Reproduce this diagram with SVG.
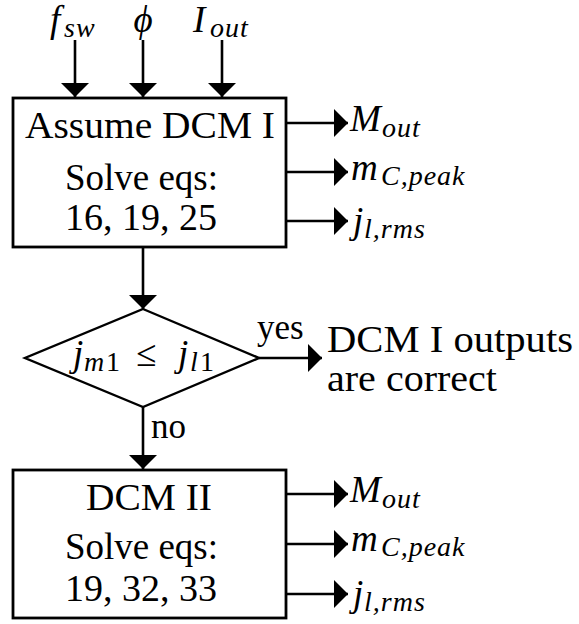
<svg xmlns="http://www.w3.org/2000/svg" width="579" height="624" viewBox="0 0 579 624">
<style>
text{font-family:"Liberation Serif","Times New Roman",Times,serif;font-size:37px;fill:#000}
.m{font-style:italic}
.s{font-size:28px;letter-spacing:1px}
.up{font-style:normal}
.box{fill:#fff;stroke:#000;stroke-width:2.8}
.ln{fill:none;stroke:#000;stroke-width:2.6}
</style>
<defs>
<marker id="ah" markerUnits="userSpaceOnUse" markerWidth="16" markerHeight="30" refX="14" refY="14" orient="auto" viewBox="0 0 16 30">
<path d="M0,0 L14,14 L0,28 Z" fill="#000"/>
</marker>
</defs>
<rect width="579" height="624" fill="#fff"/>

<g id="connectors">
<line class="ln" x1="75" y1="40" x2="75" y2="97" marker-end="url(#ah)"/>
<line class="ln" x1="143" y1="40" x2="143" y2="97" marker-end="url(#ah)"/>
<line class="ln" x1="222" y1="40" x2="222" y2="97" marker-end="url(#ah)"/>
<line class="ln" x1="286" y1="123" x2="348" y2="123" marker-end="url(#ah)"/>
<line class="ln" x1="286" y1="172" x2="348" y2="172" marker-end="url(#ah)"/>
<line class="ln" x1="286" y1="221" x2="348" y2="221" marker-end="url(#ah)"/>
<line class="ln" x1="143" y1="247" x2="143" y2="309" marker-end="url(#ah)"/>
<line class="ln" x1="259" y1="358" x2="322" y2="358" marker-end="url(#ah)"/>
<line class="ln" x1="143" y1="407" x2="143" y2="469" marker-end="url(#ah)"/>
<line class="ln" x1="286" y1="494" x2="348" y2="494" marker-end="url(#ah)"/>
<line class="ln" x1="286" y1="544" x2="348" y2="544" marker-end="url(#ah)"/>
<line class="ln" x1="286" y1="594" x2="348" y2="594" marker-end="url(#ah)"/>
<text x="257" y="339" style="font-size:35px">yes</text>
<text x="151" y="438" style="font-size:35px">no</text>
</g>

<g id="inputs">
<text class="m"><tspan x="50" y="32">f</tspan><tspan class="s" x="64" y="37">sw</tspan></text>
<text class="m" x="143" y="32" text-anchor="middle">ϕ</text>
<text class="m"><tspan x="193" y="32">I</tspan><tspan class="s" x="210" y="37">out</tspan></text>
</g>

<g id="dcm1">
<rect class="box" x="13" y="98" width="273" height="149"/>
<text x="25" y="138" textLength="250" lengthAdjust="spacingAndGlyphs">Assume DCM I</text>
<text x="65" y="190" textLength="153" lengthAdjust="spacingAndGlyphs">Solve eqs:</text>
<text x="65" y="230" textLength="152" lengthAdjust="spacingAndGlyphs">16, 19, 25</text>
</g>

<g id="out1">
<text class="m"><tspan x="350" y="131">M</tspan><tspan class="s" x="382" y="137">out</tspan></text>
<text class="m"><tspan x="351" y="180">m</tspan><tspan class="s" x="381" y="185">C,peak</tspan></text>
<text class="m"><tspan x="353" y="233">j</tspan><tspan class="s" x="364" y="238">l,rms</tspan></text>
</g>

<g id="decision">
<polygon points="143,309 259,358 143,407 25,358" fill="#fff" stroke="#000" stroke-width="2.4"/>
<text class="m"><tspan x="73" y="366">j</tspan><tspan class="s" x="84" y="371" style="letter-spacing:0">m</tspan><tspan class="s up" x="106" y="371">1</tspan><tspan class="up" x="136" y="366">≤</tspan><tspan x="178" y="366">j</tspan><tspan class="s" x="190" y="371">l</tspan><tspan class="s up" x="200" y="371">1</tspan></text>
</g>

<g id="result">
<text x="327" y="352" textLength="246" lengthAdjust="spacingAndGlyphs">DCM I outputs</text>
<text x="327" y="391" textLength="170" lengthAdjust="spacingAndGlyphs">are correct</text>
</g>

<g id="dcm2">
<rect class="box" x="13" y="470" width="273" height="148"/>
<text x="86" y="510" textLength="126" lengthAdjust="spacingAndGlyphs">DCM II</text>
<text x="65" y="559" textLength="153" lengthAdjust="spacingAndGlyphs">Solve eqs:</text>
<text x="65" y="601" textLength="152" lengthAdjust="spacingAndGlyphs">19, 32, 33</text>
</g>

<g id="out2">
<text class="m"><tspan x="350" y="502">M</tspan><tspan class="s" x="382" y="508">out</tspan></text>
<text class="m"><tspan x="351" y="551">m</tspan><tspan class="s" x="381" y="556">C,peak</tspan></text>
<text class="m"><tspan x="353" y="606">j</tspan><tspan class="s" x="364" y="611">l,rms</tspan></text>
</g>
</svg>
